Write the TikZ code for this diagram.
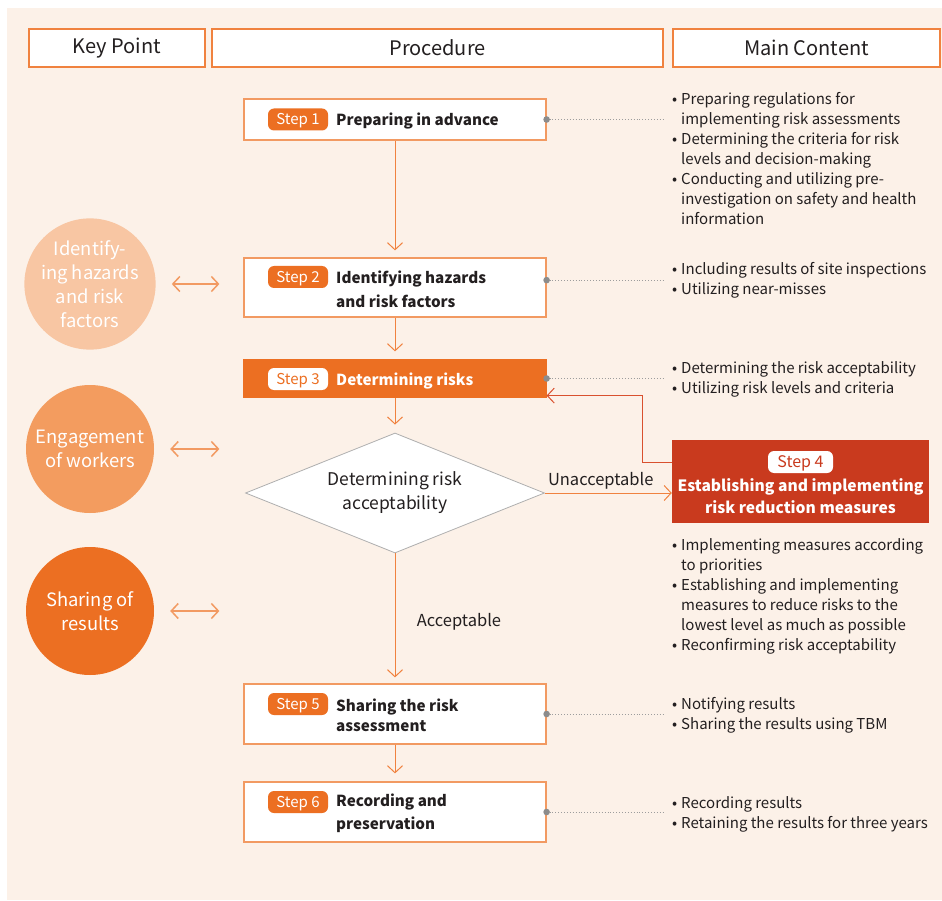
\documentclass[tikz,border=0pt]{standalone}
\usepackage{fontspec}
\setmainfont{Noto Sans CJK KR}
\usetikzlibrary{arrows.meta,shapes.geometric,calc,positioning}
\definecolor{cpaper}{HTML}{FCF1E8}
\definecolor{corange}{HTML}{EC6F22}
\definecolor{cline}{HTML}{F0823F}
\definecolor{cedge}{HTML}{F29A62}
\definecolor{cred}{HTML}{C93A1E}
\definecolor{cback}{HTML}{D9512F}
\definecolor{cpeach}{HTML}{F8C6A3}
\definecolor{capricot}{HTML}{F39C5F}
\definecolor{cgrey}{HTML}{8C8C8C}
\definecolor{cink}{HTML}{231F20}
\newcommand\fsz[2]{\fontsize{#1}{#2}\selectfont}
\newcommand\bul{\makebox[9pt][l]{\textbullet}}
\newcommand\indnt{\hspace*{9pt}}

\begin{document}
\begin{tikzpicture}[x=1pt, y=-1pt, font=\fsz{15}{20}, text=cink,
  head/.style={draw=cline, line width=1.4pt, fill=white, minimum height=38pt,
    font=\fsz{20}{24}},
  stepbox/.style={draw=cedge, line width=1.2pt, fill=white, minimum width=302pt},
  tag/.style={fill=corange, text=white, rounded corners=6pt, minimum width=60pt,
    minimum height=22pt, inner sep=0pt, text height=10.5pt, text depth=0pt,
    font=\fsz{15}{18}},
  title/.style={anchor=west, align=left, inner sep=0pt, font=\bfseries\fsz{15.2}{24}},
  key/.style={circle, minimum size=128pt, inner sep=0pt, text=white, align=center,
    font=\fsz{18.4}{24}},
  list/.style={anchor=north west, align=left, inner sep=0pt},
  flow/.style={draw=cline, line width=1pt, -{Straight Barb[length=7pt, width=15pt]}},
  pair/.style={draw=cedge, line width=1.5pt,
    {Straight Barb[length=7pt, width=15pt]}-{Straight Barb[length=7pt, width=15pt]}},
  dotline/.style={draw=cgrey!85, dotted, line width=0.9pt}]
\useasboundingbox (0,0) rectangle (942,901);
\fill[cpaper] (7,8) rectangle (942,900);
%% ------------------------------------------------------------------ headers
\node[head, minimum width=176pt] (hkey)  at (117,48)   {Key Point};
\node[head, minimum width=451pt] (hproc) at (437.5,48) {Procedure};
\node[head, minimum width=267pt] (hmain) at (806.5,48) {Main Content};
%% ------------------------------------------------------------------ steps
\node[stepbox, minimum height=41pt] (s1) at (395,119.5) {};
\node[tag] (s1tag) at (298,119.5) {Step 1};
\node[title] (s1txt) at (336,121.5) {Preparing in advance};

\node[stepbox, minimum height=59pt] (s2) at (395,287.5) {};
\node[tag] (s2tag) at (298,277) {Step 2};
\node[title] (s2txt) at (336,289) {Identifying hazards\\and risk factors};

\node[stepbox, draw=corange, fill=corange, minimum height=37pt] (s3) at (395,378.5) {};
\node[tag, fill=white, text=corange] (s3tag) at (298,379) {Step 3};
\node[title, text=white] (s3txt) at (336,380.5) {Determining risks};

\node[diamond, aspect=2.5, draw=cgrey!70, line width=0.8pt, fill=white, inner sep=0pt,
  minimum width=299pt, minimum height=120pt, align=center, font=\fsz{17.5}{24}]
  (dia) at (395,493) {Determining risk\\acceptability};

\node[fill=cred, minimum width=257pt, minimum height=83pt] (s4) at (800.5,481.5) {};
\node[tag, fill=white, text=cred, minimum width=65pt, font=\fsz{16}{18}]
  (s4tag) at (800.5,462) {Step 4};
\node[align=center, inner sep=0pt, text=white, font=\bfseries\fsz{15.6}{22}]
  (s4txt) at (800.5,496) {Establishing and implementing\\risk reduction measures};

\node[stepbox, minimum height=60pt] (s5) at (395,714) {};
\node[tag] (s5tag) at (298,704) {Step 5};
\node[title, font=\bfseries\fsz{15.2}{20}] (s5txt) at (336,715) {Sharing the risk\\assessment};

\node[stepbox, minimum height=60pt] (s6) at (395,812) {};
\node[tag] (s6tag) at (298,802) {Step 6};
\node[title, font=\bfseries\fsz{15.2}{23}] (s6txt) at (336,813.5) {Recording and\\preservation};
%% ------------------------------------------------------------------ key points
\node[key, fill=cpeach]   (c1) at (90,284) {Identify-\\ing hazards\\and risk\\factors};
\node[key, fill=capricot] (c2) at (90,449) {Engagement\\of workers};
\node[key, fill=corange]  (c3) at (90,611) {Sharing of\\results};
\foreach \c in {c1,c2,c3}
  \draw[pair, shorten <=16pt, shorten >=24pt] (\c) -- (\c -| s1.west);
%% ------------------------------------------------------------------ main content
\node[list] (l1) at (672,92) {\bul Preparing regulations for\\
  \indnt implementing risk assessments\\
  \bul Determining the criteria for risk\\
  \indnt levels and decision-making\\
  \bul Conducting and utilizing pre-\\
  \indnt investigation on safety and health\\
  \indnt information};
\node[list] (l2) at (672,262) {\bul Including results of site inspections\\
  \bul Utilizing near-misses};
\node[list] (l3) at (672,361) {\bul Determining the risk acceptability\\
  \bul Utilizing risk levels and criteria};
\node[list] (l4) at (672,538) {\bul Implementing measures according\\
  \indnt to priorities\\
  \bul Establishing and implementing\\
  \indnt measures to reduce risks to the\\
  \indnt lowest level as much as possible\\
  \bul Reconfirming risk acceptability};
\node[list] (l5) at (672,697) {\bul Notifying results\\
  \bul Sharing the results using TBM};
\node[list] (l6) at (672,796) {\bul Recording results\\
  \bul Retaining the results for three years};
% dotted leaders from the boxes to their lists
\foreach \s/\l in {s1/l1,s3/l3,s5/l5,s6/l6} {
  \draw[dotline, shorten >=8pt] (\s.east) -- (\s.east -| \l.west);
  \fill[cgrey] (\s.east) circle (3.3pt);
}
\draw[dotline, shorten >=8pt] (s2.east |- l2.west) -- (l2.west);
\fill[cgrey] (s2.east |- l2.west) circle (3.3pt);
%% ------------------------------------------------------------------ flow
\draw[flow, shorten >=7pt] (s1) -- (s2);
\draw[flow, shorten >=8pt] (s2) -- (s3);
\draw[flow, shorten >=8pt] (s3) -- (dia);
\draw[flow, shorten >=6pt] (dia) -- (s5)
  node[pos=0.53, right=18pt, font=\fsz{16.5}{20}] (acc) {Acceptable};
\draw[flow, shorten >=8pt] (s5) -- (s6);
\draw[flow] (dia.east) -- (dia.east -| s4.west)
  node[pos=0.44, above=0pt, font=\fsz{16.5}{20}] (unacc) {Unacceptable};
\draw[flow, draw=cback] (s4.west |- s4tag) -- ++(-29,0) |- ($(s3.south east)+(0,-2)$);
\end{tikzpicture}
\end{document}
